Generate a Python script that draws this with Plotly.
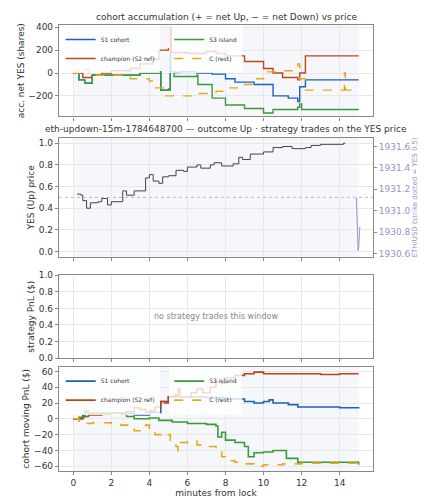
import plotly.graph_objects as go
from plotly.subplots import make_subplots

# colours
BLUE = '#1f5fbf'
RED = '#c0441a'
GREEN = '#3a9a3a'
GOLD = '#e6a817'
PURPLE = '#a58cc8'

# --- panel 1: accumulated net YES shares
acc_s1_x = [0, 0.3, 0.6, 1, 3, 3.5, 4.5, 4.6, 5.1, 5.12, 5.3, 5.6, 6.5, 7.3, 8, 8.5, 9.5, 10.5, 11.3, 11.8, 11.9, 12.2, 15]
acc_s1_y = [0, -60, -90, -20, -20, 0, 10, -150, 200, 10, 5, 10, 0, -10, -50, -80, -100, -200, -220, -250, -120, -60, -60]
acc_ch_x = [0, 0.5, 1, 1.5, 2, 3, 3.5, 4.2, 4.5, 5, 5.1, 5.15, 5.5, 6, 7, 7.5, 8, 9, 10, 10.5, 11, 11.8, 11.9, 12.2, 15]
acc_ch_y = [0, -40, -20, 0, 20, 40, 80, 120, 200, 210, 400, 180, 180, 170, 190, 170, 150, 100, 40, 0, -40, -60, 0, 150, 150]
acc_s3_x = [0, 0.3, 0.6, 1, 3, 3.5, 4.5, 4.6, 5, 5.1, 5.3, 6.5, 6.55, 7.3, 8, 9, 10, 10.5, 11.8, 11.9, 12, 15]
acc_s3_y = [0, -60, -90, -20, -20, 0, 10, -150, -140, 10, -30, -20, -100, -220, -280, -310, -350, -320, -300, -270, -320, -320]
acc_c_x = [0, 0.3, 0.5, 0.8, 2, 3, 4, 4.3, 4.8, 6, 6.5, 7.5, 8, 9, 9.5, 10, 11, 11.8, 11.9, 12.2, 14.2, 14.25, 14.3, 15]
acc_c_y = [0, 50, 30, -20, -20, -50, -70, -130, -200, -200, -180, -160, -130, -100, -50, 10, 20, 80, -50, -150, -150, 0, -150, -150]

# --- panel 2: YES price and ETH/USD
yes_x = [0.2, 0.4, 0.5, 0.7, 0.9, 1.3, 1.5, 1.8, 2, 2.6, 2.8, 3.2, 3.6, 3.8, 4, 4.2, 4.5, 4.7, 5, 5.4, 5.8, 6, 6.5, 6.7,
         7.2, 7.4, 7.8, 8.4, 8.7, 8.9, 9.3, 10, 10.5, 11, 11.5, 12.2, 12.5, 13, 14, 14.2, 14.3]
yes_y = [0.53, 0.52, 0.47, 0.40, 0.45, 0.46, 0.49, 0.43, 0.46, 0.56, 0.52, 0.56, 0.56, 0.68, 0.71, 0.65, 0.63, 0.69, 0.70,
         0.75, 0.74, 0.78, 0.80, 0.77, 0.80, 0.82, 0.79, 0.81, 0.87, 0.85, 0.90, 0.92, 0.96, 0.97, 0.95, 0.96, 0.98, 0.99,
         0.99, 1.0, 1.0]
eth_x = [14.88, 14.93, 14.97, 15.0, 15.03, 15.06]
eth_y = [1931.12, 1930.9, 1930.63, 1930.66, 1930.75, 1930.85]
strike = 0.5

# --- panel 4: moving PnL
pnl_s1_x = [0, 0.5, 0.6, 0.8, 3, 3.2, 4, 4.6, 5, 7, 8, 9, 9.5, 10, 10.3, 10.5, 11.3, 11.8, 14, 15]
pnl_s1_y = [0, 5, 8, 7, 7, 5, 8, 22, 28, 27, 25, 22, 20, 22, 24, 20, 18, 15, 14, 13]
pnl_ch_x = [0, 0.5, 0.8, 1.5, 2, 2.8, 3.2, 3.5, 3.8, 4, 4.3, 4.6, 4.8, 5, 5.3, 5.5, 5.6, 6, 6.2, 6.5, 6.8, 7.2, 7.5,
            7.8, 8, 8.5, 9, 9.5, 10, 12, 13, 14, 15]
pnl_ch_y = [0, 3, 5, 6, 7, 9, 14, 12, 8, 10, 15, 22, 20, 28, 30, 38, 28, 28, 33, 38, 33, 40, 47, 45, 52, 55, 57, 59,
            57, 57, 56, 57, 57]
pnl_s3_x = [0, 0.3, 0.6, 0.8, 2.5, 2.8, 3.2, 4, 4.5, 5.2, 6, 7, 7.5, 7.6, 7.8, 8, 8.5, 9, 9.2, 9.5, 10, 10.5, 11.2,
            11.8, 14.9, 15]
pnl_s3_y = [0, 2, 10, 7, 6, 3, 0, 1, -2, -4, -6, -7, -9, -23, -17, -27, -30, -35, -48, -43, -42, -40, -50, -55, -55, -58]
pnl_c_x = [0, 0.3, 0.6, 1, 2, 2.5, 3, 3.2, 3.6, 3.8, 4, 4.3, 4.6, 5, 5.1, 5.4, 5.5, 5.6, 6, 6.5, 7, 7.5, 7.8, 8,
           8.5, 9, 9.5, 10, 11, 12, 14, 15]
pnl_c_y = [0, -3, -6, -5, -6, -8, -12, -15, -10, -8, -12, -20, -22, -20, -30, -35, -40, -30, -28, -33, -35, -40, -48,
           -53, -55, -57, -60, -58, -57, -56, -56, -57]

fig = make_subplots(rows=4, cols=1, shared_xaxes=True,
                    specs=[[{}], [{"secondary_y": True}], [{}], [{}]])

names = ['S1 cohort', 'champion (S2 ref)', 'S3 island', 'C (rest)']
cols = [BLUE, RED, GREEN, GOLD]
legs1 = ['legend', 'legend', 'legend2', 'legend2']
legs4 = ['legend3', 'legend3', 'legend4', 'legend4']
acc = [(acc_s1_x, acc_s1_y), (acc_ch_x, acc_ch_y), (acc_s3_x, acc_s3_y), (acc_c_x, acc_c_y)]
pnl = [(pnl_s1_x, pnl_s1_y), (pnl_ch_x, pnl_ch_y), (pnl_s3_x, pnl_s3_y), (pnl_c_x, pnl_c_y)]
for i in range(4):
    dash = 'dash' if i == 3 else 'solid'
    fig.add_trace(go.Scatter(x=acc[i][0], y=acc[i][1], mode='lines', line_shape='hv', name=names[i],
                             line=dict(color=cols[i], width=1.4, dash=dash), legend=legs1[i]), row=1, col=1)
    fig.add_trace(go.Scatter(x=pnl[i][0], y=pnl[i][1], mode='lines', line_shape='hv', name=names[i],
                             line=dict(color=cols[i], width=1.6, dash=dash), legend=legs4[i]), row=4, col=1)

fig.add_trace(go.Scatter(x=yes_x, y=yes_y, mode='lines', line_shape='hv', showlegend=False,
                         line=dict(color='#444444', width=1)), row=2, col=1)
fig.add_trace(go.Scatter(x=eth_x, y=eth_y, mode='lines', showlegend=False,
                         line=dict(color=PURPLE, width=1)), row=2, col=1, secondary_y=True)
fig.add_hline(y=strike, line=dict(color='#bbbbbb', width=1, dash='dot'), row=2, col=1)

# light shading over the window
for r in [1, 2, 3, 4]:
    fig.add_vrect(x0=0, x1=15, fillcolor='#eef1f8', opacity=0.6, line_width=0, layer='below', row=r, col=1)

fig.add_annotation(text='no strategy trades this window', x=7.5, y=0.5, xref='x3', yref='y4',
                   showarrow=False, font=dict(size=8, color='#888888'))

ax = dict(showline=True, linecolor='#888888', linewidth=1.2, mirror=True, ticks='outside', tickcolor='#888888',
          ticklen=3, gridcolor='#e8e8e8', zeroline=False, tickfont=dict(size=9))
fig.update_xaxes(**ax, range=[-0.75, 15.75], dtick=2)
fig.update_yaxes(**ax)
fig.update_xaxes(title_text='minutes from lock', title_font=dict(size=9), title_standoff=2, row=4, col=1)

legfont = dict(size=6)
fig.update_layout(
    width=427, height=500, margin=dict(l=48, r=42, t=14, b=26),
    paper_bgcolor='white', plot_bgcolor='white',
    font=dict(family='DejaVu Sans', size=9, color='#333333'),
    yaxis=dict(domain=[0.795, 1], range=[-380, 420], dtick=200,
               title=dict(text='acc. net YES (shares)', font=dict(size=9), standoff=2)),
    yaxis2=dict(domain=[0.48, 0.747], range=[-0.05, 1.05], dtick=0.2, tickformat='.1f',
                title=dict(text='YES (Up) price', font=dict(size=9), standoff=2)),
    yaxis3=dict(range=[1930.57, 1931.68], dtick=0.2, tickformat='.1f', showgrid=False,
                tickfont=dict(size=9, color=PURPLE), linecolor='#888888',
                title=dict(text='ETH/USD (strike dotted = YES 0.5)', font=dict(size=7, color=PURPLE), standoff=2)),
    yaxis4=dict(domain=[0.253, 0.439], range=[0, 1], dtick=0.2, tickformat='.1f',
                title=dict(text='strategy PnL ($)', font=dict(size=9), standoff=2)),
    yaxis5=dict(domain=[0, 0.234], range=[-66, 66], dtick=20,
                title=dict(text='cohort moving PnL ($)', font=dict(size=9), standoff=2)),
    legend=dict(x=0.005, y=1.0, xanchor='left', yanchor='top', bgcolor='rgba(255,255,255,0.8)', font=legfont,
                itemwidth=30),
    legend2=dict(x=0.33, y=1.0, xanchor='left', yanchor='top', bgcolor='rgba(255,255,255,0.8)', font=legfont,
                 itemwidth=30),
    legend3=dict(x=0.005, y=0.234, xanchor='left', yanchor='top', bgcolor='rgba(255,255,255,0.8)', font=legfont,
                 itemwidth=30),
    legend4=dict(x=0.33, y=0.234, xanchor='left', yanchor='top', bgcolor='rgba(255,255,255,0.8)', font=legfont,
                 itemwidth=30),
    annotations=list(fig.layout.annotations) + [
        dict(text='cohort accumulation (+ = net Up, − = net Down) vs price', x=0.5, y=1.0, xref='paper', yref='paper',
             yanchor='bottom', showarrow=False, font=dict(size=9), yshift=1),
        dict(text='eth-updown-15m-1784648700 — outcome Up · strategy trades on the YES price', x=0.5, y=0.747,
             xref='paper', yref='paper', yanchor='bottom', showarrow=False, font=dict(size=9), yshift=2),
    ],
)

fig.write_html("out.html")
